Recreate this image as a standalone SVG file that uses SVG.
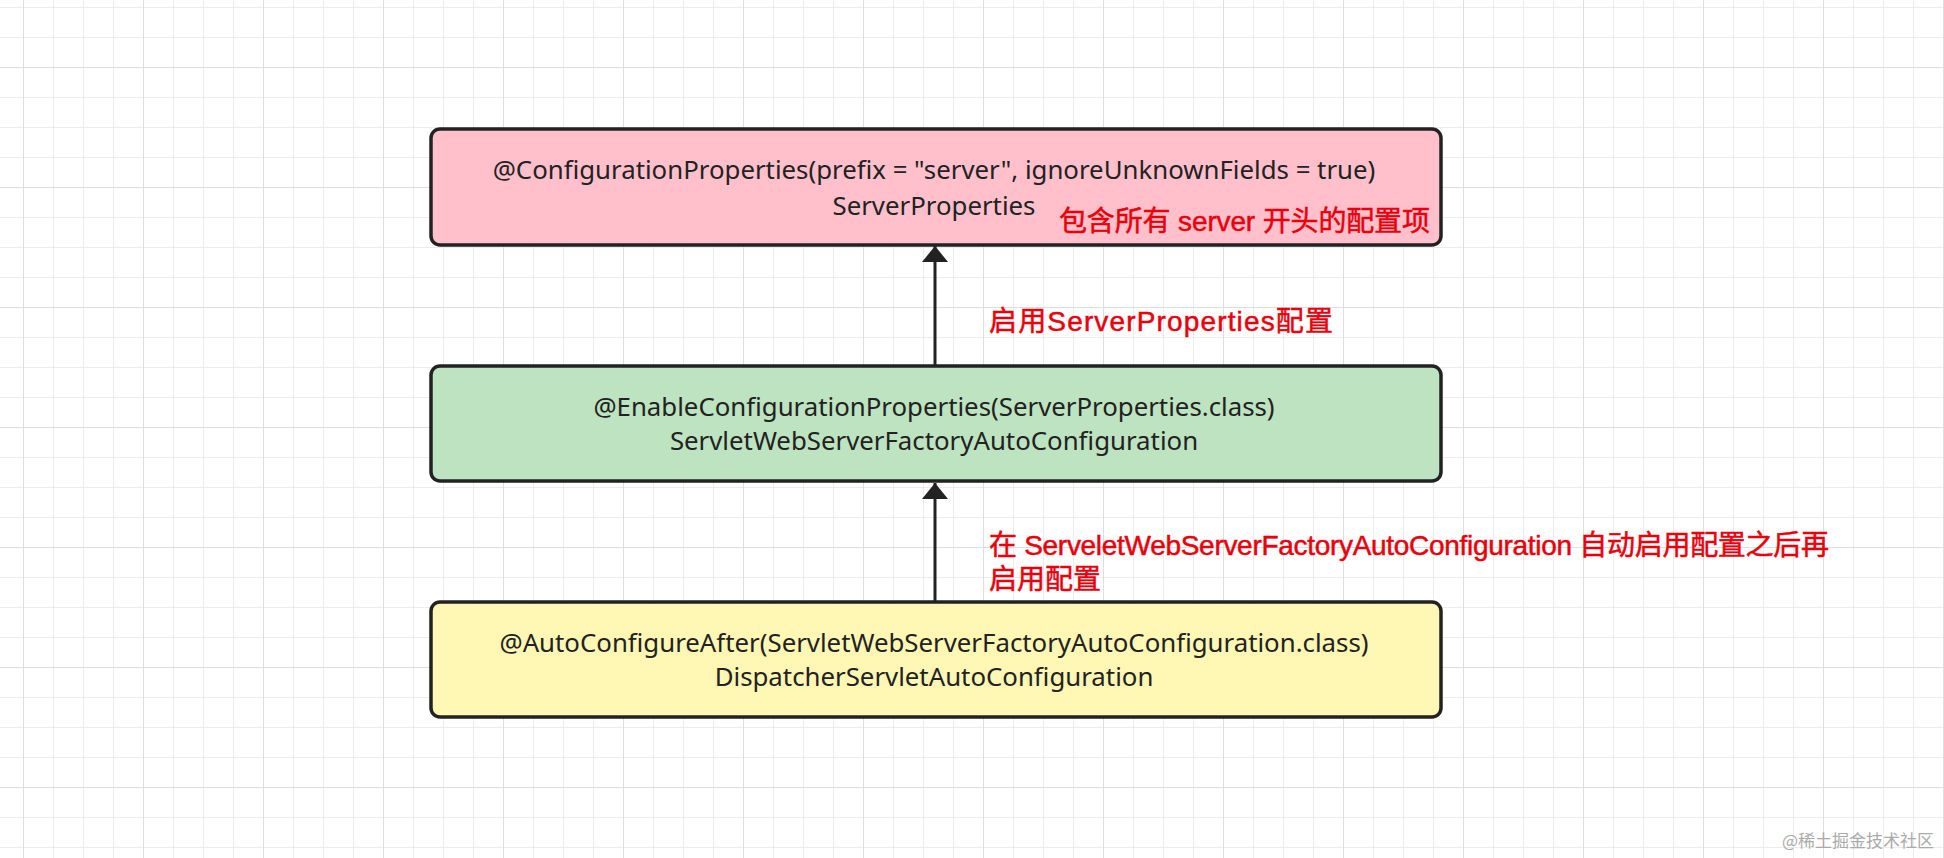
<svg xmlns="http://www.w3.org/2000/svg" width="1944" height="858" viewBox="0 0 1944 858">
<defs>
<pattern id="minor" x="23" y="7" width="30" height="30" patternUnits="userSpaceOnUse">
<path d="M0 0V30M0 0H30" fill="none" stroke="#e6e6e6" stroke-width="1.5"/>
</pattern>
<pattern id="major" x="23" y="67" width="120" height="120" patternUnits="userSpaceOnUse">
<path d="M0 0V120M0 0H120" fill="none" stroke="#dadada" stroke-width="1.5"/>
</pattern>
<marker id="arr" viewBox="0 0 16 26" refX="16" refY="13" markerWidth="16" markerHeight="26" markerUnits="userSpaceOnUse" orient="auto">
<path d="M0 0L16 13L0 26Z" fill="#222"/>
</marker>
<style>
.box{stroke:#222;stroke-width:3.5}
.t{font-family:"Noto Sans","Open Sans",sans-serif;font-size:25.8px;fill:#222;text-anchor:middle}
.r{font-family:"Liberation Sans","Noto Sans CJK SC",sans-serif;font-size:28px;fill:#e8000d;stroke:#e8000d;stroke-width:0.5}
.edge{stroke:#222;stroke-width:3;fill:none}
</style>
</defs>
<rect width="1944" height="858" fill="#fff"/>
<rect width="1944" height="858" fill="url(#minor)"/>
<rect width="1944" height="858" fill="url(#major)"/>
<g id="connectors">
<path class="edge" d="M935 366V246" marker-end="url(#arr)"/>
<path class="edge" d="M935 602V483" marker-end="url(#arr)"/>
</g>
<g id="server-properties">
<rect class="box" x="431" y="129" width="1010" height="116" rx="9" fill="#ffc0cb"/>
<text class="t" x="934" y="179">@ConfigurationProperties(prefix = "server", ignoreUnknownFields = true)</text>
<text class="t" x="934" y="215">ServerProperties</text>
</g>
<g id="servlet-web-server-factory">
<rect class="box" x="431" y="366" width="1010" height="115" rx="9" fill="#bde3c0"/>
<text class="t" x="934" y="416">@EnableConfigurationProperties(ServerProperties.class)</text>
<text class="t" x="934" y="450">ServletWebServerFactoryAutoConfiguration</text>
</g>
<g id="dispatcher-servlet">
<rect class="box" x="431" y="602" width="1010" height="115" rx="9" fill="#fff7b3"/>
<text class="t" x="934" y="652">@AutoConfigureAfter(ServletWebServerFactoryAutoConfiguration.class)</text>
<text class="t" x="934" y="686">DispatcherServletAutoConfiguration</text>
</g>
<g id="labels">
<text class="r" x="1059" y="231" textLength="371" lengthAdjust="spacing">包含所有 server 开头的配置项</text>
<text class="r" x="989" y="331" textLength="344" lengthAdjust="spacing">启用ServerProperties配置</text>
<text class="r" x="989" y="555" textLength="840" lengthAdjust="spacing">在 ServeletWebServerFactoryAutoConfiguration 自动启用配置之后再</text>
<text class="r" x="989" y="589">启用配置</text>
</g>
<text x="1934" y="847" text-anchor="end" font-family="Noto Sans CJK SC,sans-serif" font-size="17" fill="#aaa">@稀土掘金技术社区</text>
</svg>
